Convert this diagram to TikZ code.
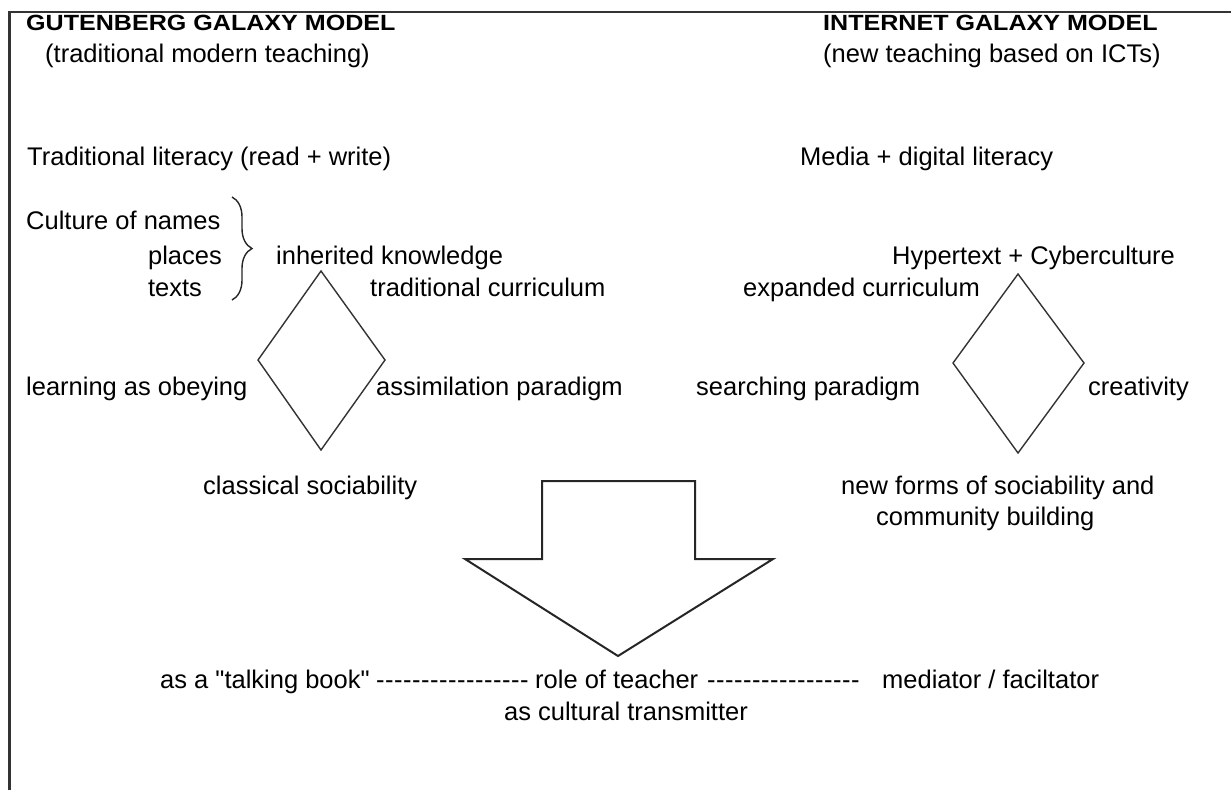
\documentclass[tikz,border=0pt]{standalone}
\usepackage{fontspec}
\setmainfont{Liberation Sans}[Ligatures=TeXOff]
\newfontfamily\ttlfont{Liberation Sans}[FakeStretch=1.14, Ligatures=TeXOff]
\usetikzlibrary{decorations.pathreplacing}
\newcommand\dashrun{\foreach \i in {1,...,17}{-\kern0.5pt}}
\begin{document}
\begin{tikzpicture}[x=1pt,y=-1pt,
  lbl/.style={inner sep=0pt, font=\fontsize{25.5}{30}\selectfont, text height=18.2pt, text depth=0pt},
  ttl/.style={inner sep=0pt, font=\ttlfont\fontsize{22}{26}\selectfont\bfseries, text height=15.8pt, text depth=0pt},
  shapeline/.style={draw=black!80, line width=1.4pt, line join=miter},
  arrowline/.style={draw=black!85, line width=2pt, line join=miter}]
\useasboundingbox (0,0) rectangle (1231,790);
% frame
\draw[draw=black!80, line width=2.5pt] (9.5,790) -- (9.5,12) -- (1231,12);
% titles
\node[ttl, anchor=west] (tl) at (26,23) {GUTENBERG GALAXY MODEL};
\node[lbl, anchor=west] (sl) at (45,53) {(traditional modern teaching)};
\node[ttl, anchor=west] (tr) at (823,23) {INTERNET GALAXY MODEL};
\node[lbl, anchor=west] (sr) at (823,53) {(new teaching based on ICTs)};
% literacy
\node[lbl, anchor=west] (litl) at (27,156) {Traditional literacy (read + write)};
\node[lbl, anchor=west] (litr) at (800,156) {Media + digital literacy};
% left side
\node[lbl, anchor=west] (cult) at (26,220) {Culture of names};
\node[lbl, anchor=east] (plac) at (222,255) {places};
\node[lbl, anchor=west] (text) at (plac.west |- 0,287) {texts};
\draw[draw=black!85, line width=1.4pt, decorate, decoration={brace, amplitude=20pt}] (232,197) -- (232,300);
\node[lbl, anchor=west] (inh) at (276,255) {inherited knowledge};
\node[lbl, anchor=west] (trc) at (370,287) {traditional curriculum};
\node[lbl, anchor=west] (lob) at (26,386) {learning as obeying};
\node[lbl, anchor=west] (asp) at (376,386) {assimilation paradigm};
\node[lbl, anchor=west] (cls) at (203,485) {classical sociability};
\path[shapeline] (321,271) -- (385,360) -- (321,450) -- (258,360) -- cycle;
% right side
\node[lbl, anchor=west] (hyp) at (892,255) {Hypertext + Cyberculture};
\node[lbl, anchor=west] (exc) at (743,287) {expanded curriculum};
\node[lbl, anchor=west] (srp) at (696,386) {searching paradigm};
\node[lbl, anchor=west] (cre) at (1088,386) {creativity};
\node[lbl, anchor=west] (nfs) at (841,485) {new forms of sociability and};
\node[lbl, anchor=west] (cmb) at (876,516) {community building};
\path[shapeline] (1018,274) -- (1084,363) -- (1018,453) -- (953,363) -- cycle;
% big arrow
\path[arrowline] (542,481) -- (695,481) -- (695,559) -- (773,559) -- (618,656) -- (465,559) -- (542,559) -- cycle;
% teacher role
\node[lbl, anchor=west] (talk) at (160,679) {as a "talking book"};
\node[lbl, anchor=west] (d1) at (376,679) {\dashrun};
\node[lbl, anchor=west] (role) at (535,679) {role of teacher};
\node[lbl, anchor=west] (d2) at (707,679) {\dashrun};
\node[lbl, anchor=west] (med) at (882,679) {mediator / faciltator};
\node[lbl] (ctr) at (626,711) {as cultural transmitter};
\end{tikzpicture}
\end{document}
